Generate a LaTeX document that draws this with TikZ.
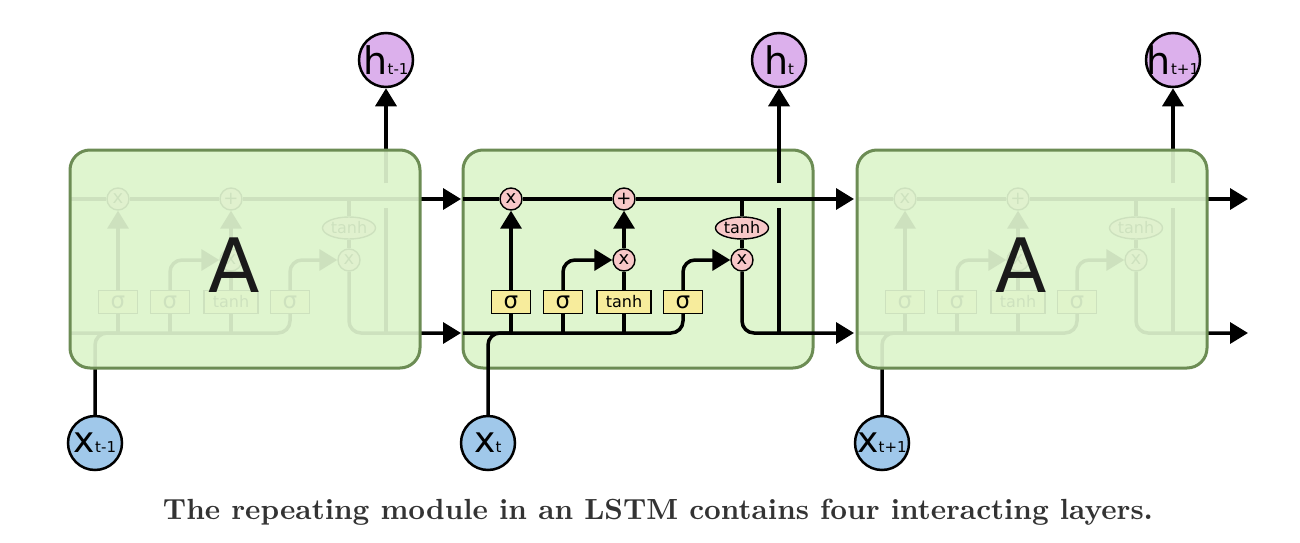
\documentclass[tikz,border=0pt]{standalone}
\usepackage{fontspec}
\usepackage{graphicx}
\usetikzlibrary{arrows.meta,shapes.geometric,calc}
\newfontfamily\dv{DejaVu Sans}
\definecolor{boxfill}{RGB}{223,245,207}
\definecolor{boxline}{RGB}{108,140,84}
\definecolor{opfill}{RGB}{248,200,200}
\definecolor{gatefill}{RGB}{247,236,156}
\definecolor{hfill}{RGB}{220,176,236}
\definecolor{xfill}{RGB}{160,200,234}
\definecolor{captc}{RGB}{51,51,51}
\definecolor{bigA}{RGB}{26,26,26}
\tikzset{
 ln/.style={line width=3.5pt},
 arr/.style={line width=3.5pt,-{Triangle[length=18pt,width=21pt]}},
 rc/.style={rounded corners=12pt},
 op/.style={circle,draw,line width=1.4pt,fill=opfill,minimum size=22pt,inner sep=0pt,font=\dv\fontsize{18}{18}\selectfont},
 gate/.style={rectangle,draw,line width=1.4pt,fill=gatefill,minimum height=23pt,inner sep=0pt},
 sig/.style={gate,minimum width=39pt,font=\dv\fontsize{23}{23}\selectfont},
 tg/.style={gate,minimum width=54pt,font=\dv\fontsize{16}{16}\selectfont},
 tel/.style={ellipse,draw,line width=1.4pt,fill=opfill,minimum width=53pt,minimum height=22pt,inner sep=0pt,font=\dv\fontsize{16}{16}\selectfont},
 cellbox/.style={rounded corners=20pt},
 io/.style={circle,draw,line width=2.5pt,minimum size=54pt,inner sep=0pt},
 lbl/.style={inner sep=0pt,font=\dv},
}
% #1 prefix, #2 x subscript, #3 h subscript
\newcommand{\lstmcore}[3]{%
 \coordinate (#1cl) at (0,199);
 \coordinate (#1cr) at (391,199);
 \coordinate (#1bl) at (0,333);
 \coordinate (#1br) at (391,333);
 \coordinate (#1hb) at (316,333);
 \coordinate (#1ha) at (316,208);
 \coordinate (#1hc) at (316,183);
 \node[io,fill=xfill] (#1x) at (25,443) {};
 \node[lbl] (#1xl) at (#1x) {\fontsize{36}{36}\selectfont x\fontsize{15}{15}\selectfont #2};
 \node[io,fill=hfill] (#1h) at (316,60) {};
 \node[lbl] (#1hl) at (#1h) {\fontsize{38}{38}\selectfont h\fontsize{15}{15}\selectfont #3};
 \node[sig] (#1s1) at (48,302) {σ};
 \node[sig] (#1s2) at (100,302) {σ};
 \node[tg] (#1tg) at (161,302) {tanh};
 \node[sig] (#1s3) at (220,302) {σ};
 \node[op] (#1f) at (48,199) {x};
 \node[op] (#1p) at (161,199) {+};
 \node[op] (#1i) at (161,260) {x};
 \node[op] (#1o) at (279,260) {x};
 \node[tel] (#1th) at (279,228) {tanh};
 \draw[arr] (#1cl) -- (#1f) -- (#1p) -- (#1cr);
 \draw[ln,rc] (#1bl) -| (#1s3.south);
 \draw[ln] (#1s1.south) -- (#1s1.south |- #1bl);
 \draw[ln] (#1s2.south) -- (#1s2.south |- #1bl);
 \draw[ln] (#1tg.south) -- (#1tg.south |- #1bl);
 \draw[ln,rc] (#1x.north) |- (#1s1.south |- #1bl);
 \draw[arr] (#1s1) -- (#1f);
 \draw[arr,rc] (#1s2.north) |- (#1i.west);
 \draw[ln] (#1tg) -- (#1i);
 \draw[arr] (#1i) -- (#1p);
 \draw[arr,rc] (#1s3.north) |- (#1o.west);
 \draw[ln] (#1th.north |- #1cl) -- (#1th);
 \draw[ln] (#1th) -- (#1o);
 \draw[arr,rc] (#1o.south) |- (#1br);
 \draw[ln] (#1hb) -- (#1ha);
 \draw[arr] (#1hc) -- (#1h);
}
\newcommand{\fadedmodule}[3]{%
 \fill[boxfill,cellbox] (0,150) rectangle (350,368);
 \lstmcore{#1}{#2}{#3}
 \fill[boxfill,cellbox,fill opacity=0.92] (0,150) rectangle (350,368);
 \draw[boxline,line width=3pt,cellbox] (0,150) rectangle (350,368);
 \node[inner sep=0pt,anchor=base,text=bigA,font=\dv\fontsize{75}{75}\selectfont] (#1A) at (164,292) {A};
}
\begin{document}
\begin{tikzpicture}[x=1pt,y=-1pt]
\useasboundingbox (0,0) rectangle (1300,543);
\begin{scope}[shift={(70,0)}]
 \fadedmodule{L}{t-1}{t-1}
\end{scope}
\begin{scope}[shift={(463,0)}]
 \fill[boxfill,cellbox] (0,150) rectangle (350,368);
 \draw[boxline,line width=3pt,cellbox] (0,150) rectangle (350,368);
 \lstmcore{M}{t}{t}
\end{scope}
\begin{scope}[shift={(857,0)}]
 \fadedmodule{R}{t+1}{t+1}
\end{scope}
\node[font=\bfseries,text=captc,inner sep=0pt] (cap) at (658,512) {\resizebox{990pt}{!}{The repeating module in an LSTM contains four interacting layers.}};
\end{tikzpicture}
\end{document}
